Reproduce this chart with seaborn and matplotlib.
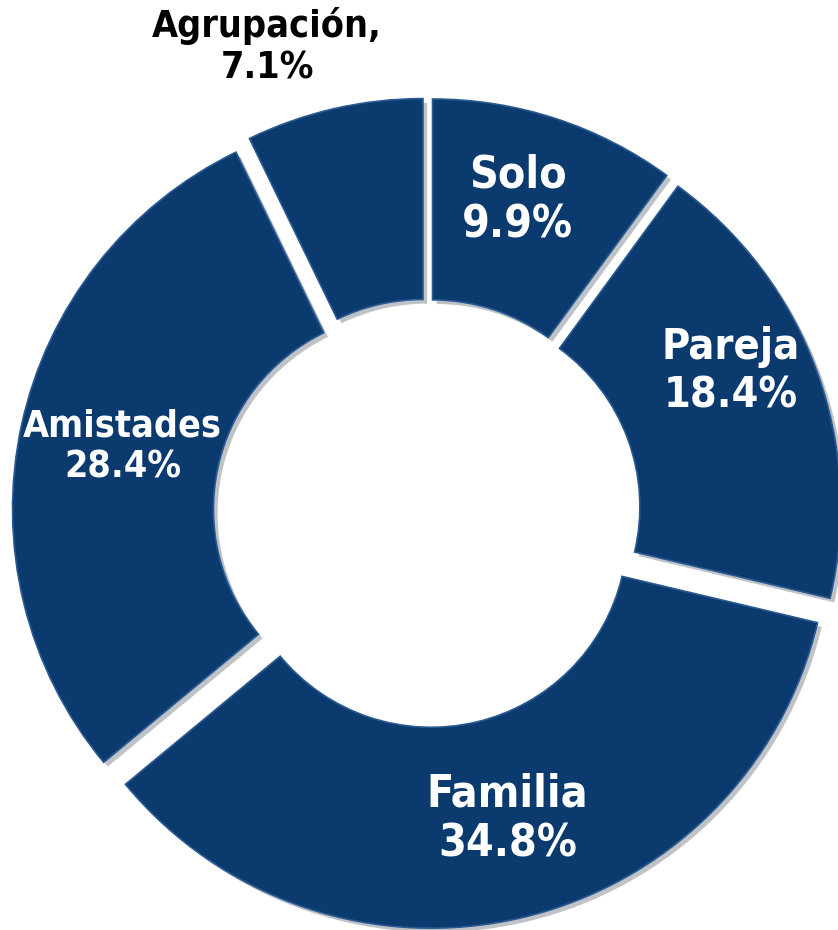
import numpy as np
import matplotlib.pyplot as plt
import matplotlib.patheffects as pe
import seaborn as sns

# Datos
categorias = ["Solo", "Pareja", "Familia", "Amistades", "Agrupación"]
porcentajes = [9.9, 18.4, 34.8, 28.4, 7.1]
separacion = [0.045, 0.045, 0.047, 0.045, 0.045]

sns.set_theme(style="white")
plt.rcParams['font.family'] = ['DejaVu Sans']

color = "#0a3a6e"

fig = plt.figure(figsize=(8.38, 9.30), dpi=100)
ax = fig.add_axes([0, 0, 1, 1])

wedges, _ = ax.pie(
    porcentajes, startangle=90, counterclock=False, explode=separacion,
    colors=[color] * len(porcentajes),
    wedgeprops=dict(width=0.506, edgecolor="#2a5a92", linewidth=1.2),
)
for w in wedges:
    w.set_path_effects([pe.SimplePatchShadow(offset=(3, -3), alpha=0.25), pe.Normal()])

# Etiquetas (distancia al centro y giro respecto al ángulo medio)
dist = [0.776, 0.80, 0.75, 0.74, 1.196]
giro = [2, 5, 1.7, 0, 6.2]
tamanos = [32, 31, 32, 27, 27]
for w, cat, pct, d, g, fs in zip(wedges, categorias, porcentajes, dist, giro, tamanos):
    ang = np.deg2rad((w.theta1 + w.theta2) / 2 + g)
    cx, cy = w.center
    x, y = cx + d * np.cos(ang), cy + d * np.sin(ang)
    if cat == "Agrupación":
        txt = f"{cat},\n{pct:.1f}%"
        col = "black"
    else:
        txt = f"{cat}\n{pct:.1f}%"
        col = "white"
    ax.text(x, y, txt, ha="center", va="center", color=col, fontsize=fs,
            fontweight="bold", fontstretch="condensed", linespacing=1.2)

R = 397.0
ax.set_xlim(-427 / R, 411 / R)
ax.set_ylim(-417 / R, 513 / R)
ax.set_aspect("equal")
ax.axis("off")

plt.savefig("out.png", dpi=100)
